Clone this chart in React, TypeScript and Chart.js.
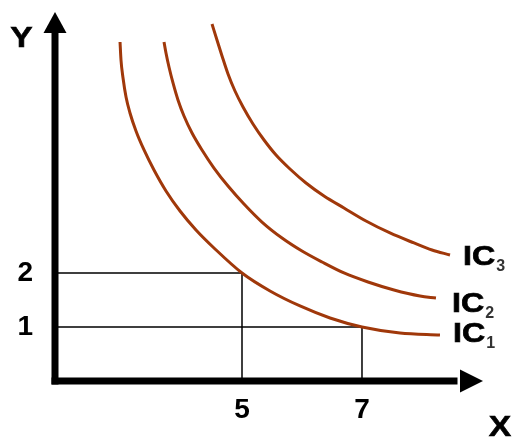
import React, { useEffect, useRef } from "react";
import { Chart, registerables } from "chart.js";

Chart.register(...registerables);

const X_MIN = 1.883;
const X_MAX = 9.017;
const Y_MIN = 0;
const Y_MAX = 6.833;
const X_TICKS = [5, 7];
const Y_TICKS = [1, 2];
const AXIS_TITLES = ["X", "Y"];
const CURVE_NAMES = ["IC", "IC", "IC"];
const CURVE_SUBS = ["1", "2", "3"];

const IC1_X = [2.967, 2.983, 3.017, 3.067, 3.133, 3.233, 3.367, 3.533, 3.733, 3.967, 4.233, 4.533, 5.0, 5.467, 5.967, 6.467, 7.0, 7.633, 8.3];
const IC1_Y = [6.278, 5.944, 5.611, 5.259, 4.963, 4.63, 4.278, 3.907, 3.519, 3.148, 2.796, 2.463, 2.0, 1.667, 1.389, 1.167, 1.0, 0.889, 0.852];

const IC2_X = [3.7, 3.733, 3.783, 3.85, 3.933, 4.033, 4.167, 4.333, 4.533, 4.767, 5.033, 5.333, 5.667, 6.0, 6.333, 6.7, 7.1, 7.533, 7.967, 8.233];
const IC2_Y = [6.278, 6.074, 5.815, 5.519, 5.204, 4.907, 4.593, 4.278, 3.944, 3.611, 3.278, 2.944, 2.648, 2.407, 2.204, 2.0, 1.833, 1.685, 1.574, 1.537];

const IC3_X = [4.5, 4.583, 4.667, 4.767, 4.883, 5.017, 5.183, 5.367, 5.567, 5.8, 6.067, 6.367, 6.7, 7.067, 7.467, 7.867, 8.167, 8.467];
const IC3_Y = [6.611, 6.315, 6.019, 5.685, 5.37, 5.074, 4.759, 4.463, 4.185, 3.926, 3.667, 3.426, 3.204, 2.963, 2.741, 2.556, 2.426, 2.333];

const GUIDE_A_X = [X_MIN, 5, 5];
const GUIDE_A_Y = [2, 2, 0];
const GUIDE_B_X = [X_MIN, 7, 7];
const GUIDE_B_Y = [1, 1, 0];

const zip = (xs: number[], ys: number[]) => xs.map((x, i) => ({ x, y: ys[i] }));

const CURVE_COLOR = "#a0380a";
const FONT_FAMILY = "'Liberation Sans', Arial, sans-serif";

// pixel offsets of curve labels from each curve's last point
const LABEL_OFFSETS = [
  [13, -2.5],
  [16, 4],
  [13, 0],
];

function drawStretched(ctx: any, text: string, x: number, y: number, sx: number, stroke: number) {
  ctx.save();
  ctx.translate(x, y);
  ctx.scale(sx, 1);
  ctx.fillText(text, 0, 0);
  if (stroke > 0) {
    ctx.lineWidth = stroke;
    ctx.strokeStyle = ctx.fillStyle;
    ctx.strokeText(text, 0, 0);
  }
  ctx.restore();
}

const overlayPlugin = {
  id: "overlay",
  afterDraw(chart: any) {
    const { ctx, chartArea } = chart;
    const { left, right, top, bottom } = chartArea;
    ctx.save();
    ctx.fillStyle = "#000";
    ctx.strokeStyle = "#000";
    // Y axis
    const aw = 7;
    ctx.fillRect(left - aw / 2, top + 20, aw, bottom - top - 20 + aw / 2);
    ctx.beginPath();
    ctx.moveTo(left, top);
    ctx.lineTo(left - 11.5, top + 21);
    ctx.lineTo(left + 11.5, top + 21);
    ctx.closePath();
    ctx.fill();
    // X axis
    ctx.fillRect(left - aw / 2, bottom - aw / 2, right - left - 22, aw);
    ctx.beginPath();
    ctx.moveTo(right, bottom);
    ctx.lineTo(right - 23, bottom - 11.5);
    ctx.lineTo(right - 23, bottom + 11.5);
    ctx.closePath();
    ctx.fill();

    // axis titles
    ctx.font = `bold 30px ${FONT_FAMILY}`;
    ctx.textAlign = "center";
    ctx.textBaseline = "middle";
    drawStretched(ctx, AXIS_TITLES[1], left - 33.5, top + 27, 1.12, 0.6);
    drawStretched(ctx, AXIS_TITLES[0], right + 17, bottom + 47, 1.12, 0.6);

    // curve labels
    for (let i = 0; i < 3; i++) {
      const meta = chart.getDatasetMeta(i);
      const pts = meta.data;
      const last = pts[pts.length - 1];
      const x = last.x + LABEL_OFFSETS[i][0];
      const cy = last.y + LABEL_OFFSETS[i][1];
      ctx.font = `bold 28px ${FONT_FAMILY}`;
      ctx.textAlign = "left";
      ctx.textBaseline = "alphabetic";
      ctx.fillStyle = "#000";
      const base = cy + 10;
      drawStretched(ctx, CURVE_NAMES[i], x, base, 1.15, 0.7);
      const w = ctx.measureText(CURVE_NAMES[i]).width * 1.15;
      ctx.font = `bold 16px ${FONT_FAMILY}`;
      ctx.fillStyle = "#333";
      drawStretched(ctx, CURVE_SUBS[i], x + w + 1, base + 6, 1.0, 0);
    }
    ctx.restore();
  },
};

export default function App() {
  const canvasRef = useRef<HTMLCanvasElement | null>(null);

  useEffect(() => {
    if (!canvasRef.current) return;
    const curve = (xs: number[], ys: number[]) => ({
      data: zip(xs, ys),
      borderColor: CURVE_COLOR,
      borderWidth: 3,
      pointRadius: 0,
      showLine: true,
      fill: false,
      cubicInterpolationMode: "monotone" as const,
    });
    const guide = (xs: number[], ys: number[]) => ({
      data: zip(xs, ys),
      borderColor: "#000",
      borderWidth: 1.5,
      pointRadius: 0,
      showLine: true,
      fill: false,
      tension: 0,
    });
    const chart = new Chart(canvasRef.current, {
      type: "scatter",
      data: {
        datasets: [
          curve(IC1_X, IC1_Y),
          curve(IC2_X, IC2_Y),
          curve(IC3_X, IC3_Y),
          guide(GUIDE_A_X, GUIDE_A_Y),
          guide(GUIDE_B_X, GUIDE_B_Y),
        ],
      },
      options: {
        animation: false,
        responsive: true,
        maintainAspectRatio: false,
        layout: { padding: { left: 0, top: 12, right: 29, bottom: 0 } },
        plugins: { legend: { display: false }, tooltip: { enabled: false } },
        scales: {
          x: {
            type: "linear",
            min: X_MIN,
            max: X_MAX,
            border: { display: false },
            grid: { display: false, drawTicks: false },
            afterBuildTicks: (s: any) => {
              s.ticks = X_TICKS.map((v) => ({ value: v }));
            },
            afterFit: (s: any) => {
              s.height = 58;
              s.paddingLeft = 0;
              s.paddingRight = 0;
            },
            ticks: {
              maxRotation: 0,
              padding: 12,
              color: "#000",
              font: { family: FONT_FAMILY, size: 28, weight: "bold" },
              callback: (v: any) => String(v),
            },
          },
          y: {
            type: "linear",
            min: Y_MIN,
            max: Y_MAX,
            border: { display: false },
            grid: { display: false, drawTicks: false },
            afterBuildTicks: (s: any) => {
              s.ticks = Y_TICKS.map((v) => ({ value: v }));
            },
            afterFit: (s: any) => {
              s.width = 55;
              s.paddingTop = 0;
              s.paddingBottom = 0;
            },
            ticks: {
              padding: 22,
              color: "#000",
              font: { family: FONT_FAMILY, size: 28, weight: "bold" },
              callback: (v: any) => String(v),
            },
          },
        },
      },
      plugins: [overlayPlugin],
    });
    return () => chart.destroy();
  }, []);

  return (
    <div style={{ position: "fixed", left: 0, top: 0, width: 512, height: 439, background: "#fff" }}>
      <canvas ref={canvasRef} />
    </div>
  );
}
